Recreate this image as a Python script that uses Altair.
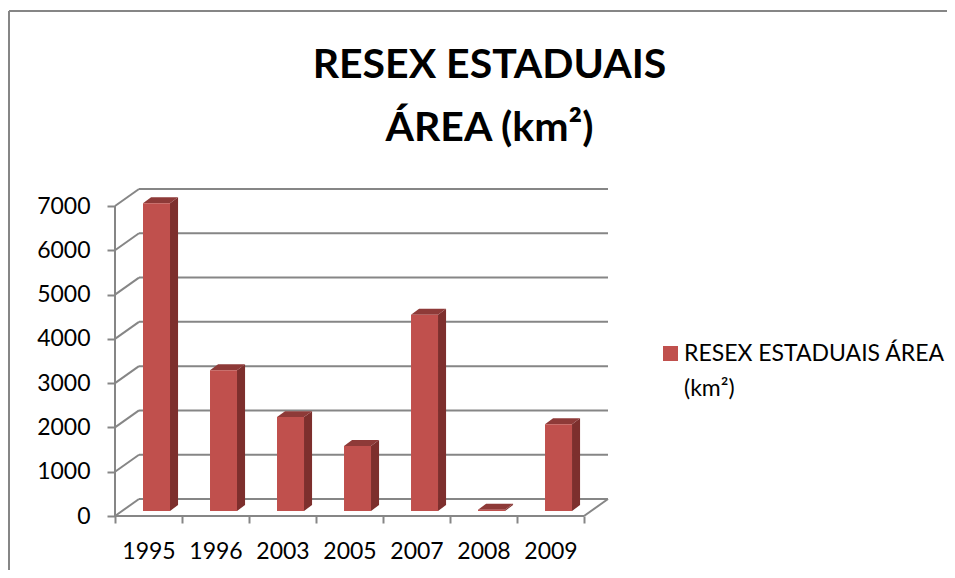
import altair as alt
import pandas as pd

years = ["1995", "1996", "2003", "2005", "2007", "2008", "2009"]
areas = [6950, 3180, 2120, 1470, 4430, 30, 1960]
y_ticks = [0, 1000, 2000, 3000, 4000, 5000, 6000, 7000]
series_name = "RESEX ESTADUAIS ÁREA (km²)"
title_lines = ["RESEX ESTADUAIS", "ÁREA (km²)"]

FONT = "Lato"
GRID = "#868686"
FRONT, SIDE, TOP = "#C0504D", "#7D2F2D", "#8E3A38"

# oblique "3D" projection expressed in data units
n = len(years)
floor_dx, floor_dy = 0.358, 384
x_max, y_max = n + floor_dx, 7000 + floor_dy
bar_lead, bar_w = 0.418, 0.403
bar_base = 113
depth_dx, depth_dy = 0.12, 135

x_scale = alt.Scale(domain=[0, x_max], nice=False, zero=False)
y_scale = alt.Scale(domain=[0, y_max], nice=False, zero=False)

grid = pd.DataFrame({"t": y_ticks})
grid["x0"], grid["x1"] = floor_dx, x_max
grid["y0"] = grid["t"] + floor_dy
grid["dx0"], grid["dy0"] = 0.0, grid["t"]

rows = pd.DataFrame({"year": years, "area": areas, "serie": series_name})
rows["l"] = [i + bar_lead for i in range(n)]
rows["r"] = rows["l"] + bar_w
rows["b"] = bar_base
rows["h"] = rows["area"] + bar_base

side = pd.concat([
    pd.DataFrame({"year": years, "x": rows["r"], "lo": rows["b"], "hi": rows["h"]}),
    pd.DataFrame({"year": years, "x": rows["r"] + depth_dx, "lo": rows["b"] + depth_dy, "hi": rows["h"] + depth_dy}),
])
top = pd.concat([
    pd.DataFrame({"year": years, "y": rows["h"], "a": rows["l"], "c": rows["r"]}),
    pd.DataFrame({"year": years, "y": rows["h"] + depth_dy, "a": rows["l"] + depth_dx, "c": rows["r"] + depth_dx}),
])

labels_js = "[" + ",".join(f"'{y}'" for y in years) + "]"
x_axis = alt.Axis(
    values=list(range(n + 1)), domain=False, grid=False, title=None,
    tickColor=GRID, tickWidth=2, tickSize=7,
    labelExpr=f"datum.value < {n} ? {labels_js}[datum.value] : ''",
    labelOffset=33.5, labelPadding=17, labelFont=FONT, labelFontSize=23,
    labelColor="black", labelOverlap=False, labelFlush=False, labelBound=False,
)
y_axis = alt.Axis(
    values=y_ticks, domain=False, grid=False, title=None,
    tickColor=GRID, tickWidth=2, tickSize=8,
    labelPadding=17, labelFont=FONT, labelFontSize=23, labelColor="black",
    labelOverlap=False, labelFlush=False, labelBound=False, format="d",
)

X = alt.X("x0:Q", scale=x_scale, axis=x_axis)
Y = alt.Y("y0:Q", scale=y_scale, axis=y_axis)

back = alt.Chart(grid).mark_rule(color=GRID, strokeWidth=2).encode(x=X, x2="x1:Q", y=Y)
diag = alt.Chart(grid).mark_rule(color=GRID, strokeWidth=2).encode(
    x=alt.X("dx0:Q", scale=x_scale, axis=x_axis), x2="x0:Q",
    y=alt.Y("dy0:Q", scale=y_scale, axis=y_axis), y2="y0:Q",
)
floor = pd.DataFrame({"a": [0.0, float(n)], "b": [float(n), x_max], "c": [0.0, 0.0], "d": [0.0, float(floor_dy)]})
floor_lines = alt.Chart(floor).mark_rule(color=GRID, strokeWidth=2).encode(
    x=alt.X("a:Q", scale=x_scale, axis=x_axis), x2="b:Q",
    y=alt.Y("c:Q", scale=y_scale, axis=y_axis), y2="d:Q",
)
wall = alt.Chart(pd.DataFrame({"a": [0.0], "c": [0.0], "d": [7000.0]})).mark_rule(color=GRID, strokeWidth=2).encode(
    x=alt.X("a:Q", scale=x_scale, axis=x_axis),
    y=alt.Y("c:Q", scale=y_scale, axis=y_axis), y2="d:Q",
)

side_faces = alt.Chart(side).mark_area(color=SIDE, opacity=1).encode(
    x=alt.X("x:Q", scale=x_scale, axis=x_axis),
    y=alt.Y("lo:Q", scale=y_scale, axis=y_axis), y2="hi:Q", detail="year:N",
)
top_faces = alt.Chart(top).mark_area(color=TOP, opacity=1, orient="horizontal").encode(
    y=alt.Y("y:Q", scale=y_scale, axis=y_axis),
    x=alt.X("a:Q", scale=x_scale, axis=x_axis), x2="c:Q", detail="year:N",
)
front_faces = alt.Chart(rows).mark_rect().encode(
    x=alt.X("l:Q", scale=x_scale, axis=x_axis), x2="r:Q",
    y=alt.Y("b:Q", scale=y_scale, axis=y_axis), y2="h:Q",
    color=alt.Color(
        "serie:N",
        scale=alt.Scale(domain=[series_name], range=[FRONT]),
        legend=alt.Legend(
            title=None, orient="none", legendX=544, legendY=153,
            symbolType="square", symbolSize=225, symbolOpacity=1, symbolStrokeWidth=0,
            labelFont=FONT, labelFontSize=23, labelColor="black", labelLimit=400, labelOffset=2,
            labelExpr="['RESEX ESTADUAIS ÁREA', '(km²)']", labelBaseline="middle",
        ),
    ),
    tooltip=["year:N", "area:Q"],
)

frame_top = alt.Chart(pd.DataFrame({"k": [0]})).mark_rule(color=GRID, strokeWidth=2).encode(
    x=alt.value(-106), x2=alt.value(840), y=alt.value(-178)
)
frame_left = alt.Chart(pd.DataFrame({"k": [0]})).mark_rule(color=GRID, strokeWidth=2).encode(
    x=alt.value(-106), y=alt.value(-178), y2=alt.value(390)
)

chart = (
    alt.layer(frame_top, frame_left, back, diag, floor_lines, wall, side_faces, top_faces, front_faces)
    .properties(
        width=493, height=327,
        autosize=alt.AutoSizeParams(type="none"),
        padding={"left": 107, "top": 181, "right": 339, "bottom": 54},
        title=alt.TitleParams(
            text=title_lines, font=FONT, fontSize=41, fontWeight="bold", color="black",
            anchor="middle", align="center", dx=128, dy=144, lineHeight=63,
        ),
    )
    .configure(style={"guide-label": {"lineHeight": 35}})
    .configure_view(stroke=None)
)

chart.save("out.html", embed_options={"renderer": "svg", "actions": False})
